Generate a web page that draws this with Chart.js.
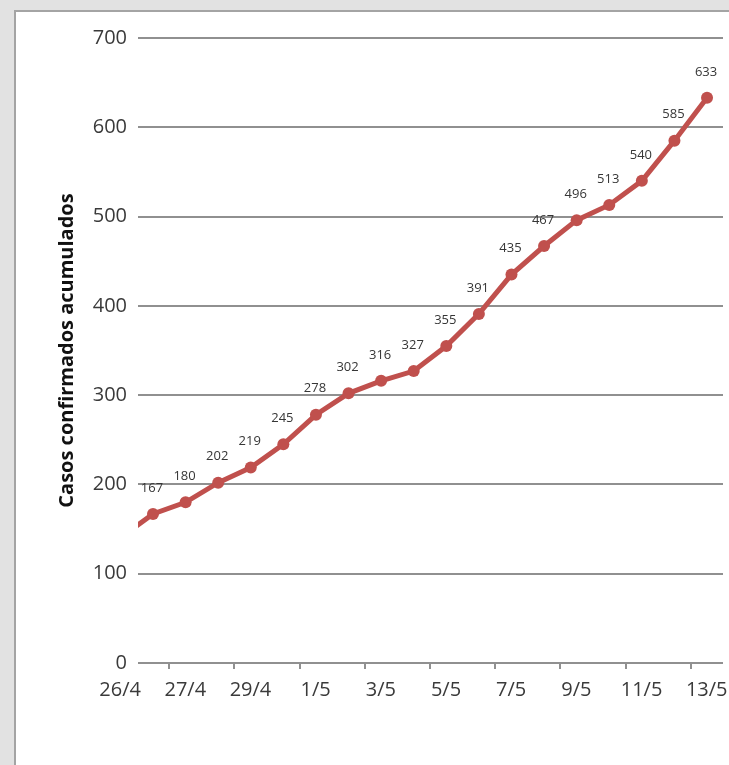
<!DOCTYPE html>
<html>
<head>
<meta charset="utf-8">
<script src="https://cdn.jsdelivr.net/npm/chart.js@4"></script>
<style>
  html, body { margin: 0; padding: 0; }
  body { width: 729px; height: 765px; background: #e2e2e2; position: relative; overflow: hidden; }
  .marco { position: absolute; left: 14px; top: 10px; width: 760px; height: 800px;
           background: #fff; border: 2px solid #a4a4a4; box-sizing: border-box; }
  #grafica { position: absolute; left: 0; top: 0; }
</style>
</head>
<body>
<div class="marco"></div>
<canvas id="grafica" width="729" height="765"></canvas>
<script>
// Fechas (una por día) y casos confirmados acumulados
const fechas = ['25/4', '26/4', '27/4', '28/4', '29/4', '30/4', '1/5', '2/5', '3/5', '4/5',
                '5/5', '6/5', '7/5', '8/5', '9/5', '10/5', '11/5', '12/5', '13/5'];
const casos = [140, 167, 180, 202, 219, 245, 278, 302, 316, 327,
               355, 391, 435, 467, 496, 513, 540, 585, 633];

// Etiquetas del eje X (una cada dos días)
const etiquetasEje = ['26/4', '27/4', '29/4', '1/5', '3/5', '5/5', '7/5', '9/5', '11/5', '13/5'];

// Eje Y
const yMin = 0, yMax = 700, yPaso = 100;

const fuente = '"Open Sans", sans-serif';
const rojo = '#c0504d';
const gris = '#909090';

// Plugin sencillo para escribir el valor encima de cada punto
const etiquetasDatos = {
    id: 'etiquetasDatos',
    afterDatasetsDraw(chart) {
        const ctx = chart.ctx;
        const meta = chart.getDatasetMeta(0);
        ctx.save();
        ctx.font = '13px ' + fuente;
        ctx.fillStyle = '#363636';
        ctx.textAlign = 'center';
        ctx.textBaseline = 'middle';
        meta.data.forEach((pt, i) => {
            if (i === 0) return; // el primer punto queda fuera del área
            ctx.fillText(casos[i], pt.x - 1, pt.y - 26);
        });
        ctx.restore();
    }
};

new Chart(document.getElementById('grafica').getContext('2d'), {
    type: 'line',
    data: {
        datasets: [{
            label: 'Casos confirmados acumulados',
            data: casos.map((v, i) => ({ x: i, y: v })),
            borderColor: rojo,
            backgroundColor: rojo,
            borderWidth: 5,
            pointRadius: ctx => ctx.dataIndex === 0 ? 0 : 6,
            pointBackgroundColor: rojo,
            pointBorderWidth: 0,
            tension: 0,
            clip: 0
        }]
    },
    options: {
        responsive: false,
        animation: false,
        layout: { padding: { top: 38, right: 5, left: 0, bottom: 0 } },
        plugins: {
            legend: { display: false },
            tooltip: { enabled: false }
        },
        scales: {
            x: {
                type: 'linear',
                min: 0.54,
                max: 18.49,
                border: { display: false },
                grid: {
                    drawOnChartArea: false,
                    drawTicks: true,
                    tickLength: 6,
                    lineWidth: 2,
                    color: ctx => (ctx.tick && ctx.tick.value < 0) ? 'rgba(0,0,0,0)' : gris
                },
                afterBuildTicks: scale => {
                    scale.ticks = etiquetasEje.map((l, i) => ({ value: -0.5 + 2 * i }));
                },
                afterFit: scale => {
                    scale.height = 102;
                    scale.paddingLeft = 0;
                    scale.paddingRight = 0;
                },
                ticks: {
                    autoSkip: false,
                    maxRotation: 0,
                    labelOffset: 16,
                    padding: 9,
                    color: '#3a3a3a',
                    font: { family: fuente, size: 20 },
                    callback: (v, i) => etiquetasEje[i]
                }
            },
            y: {
                min: yMin,
                max: yMax,
                border: { display: false },
                grid: { color: gris, lineWidth: 2, drawTicks: false },
                afterFit: scale => { scale.width = 138; },
                ticks: {
                    stepSize: yPaso,
                    padding: 11,
                    color: '#3a3a3a',
                    font: { family: fuente, size: 20 }
                },
                title: {
                    display: true,
                    text: 'Casos confirmados acumulados',
                    color: '#111',
                    padding: { top: 55, bottom: 0 },
                    font: { family: fuente, size: 20, weight: 'bold' }
                }
            }
        }
    },
    plugins: [etiquetasDatos]
});
</script>
</body>
</html>
